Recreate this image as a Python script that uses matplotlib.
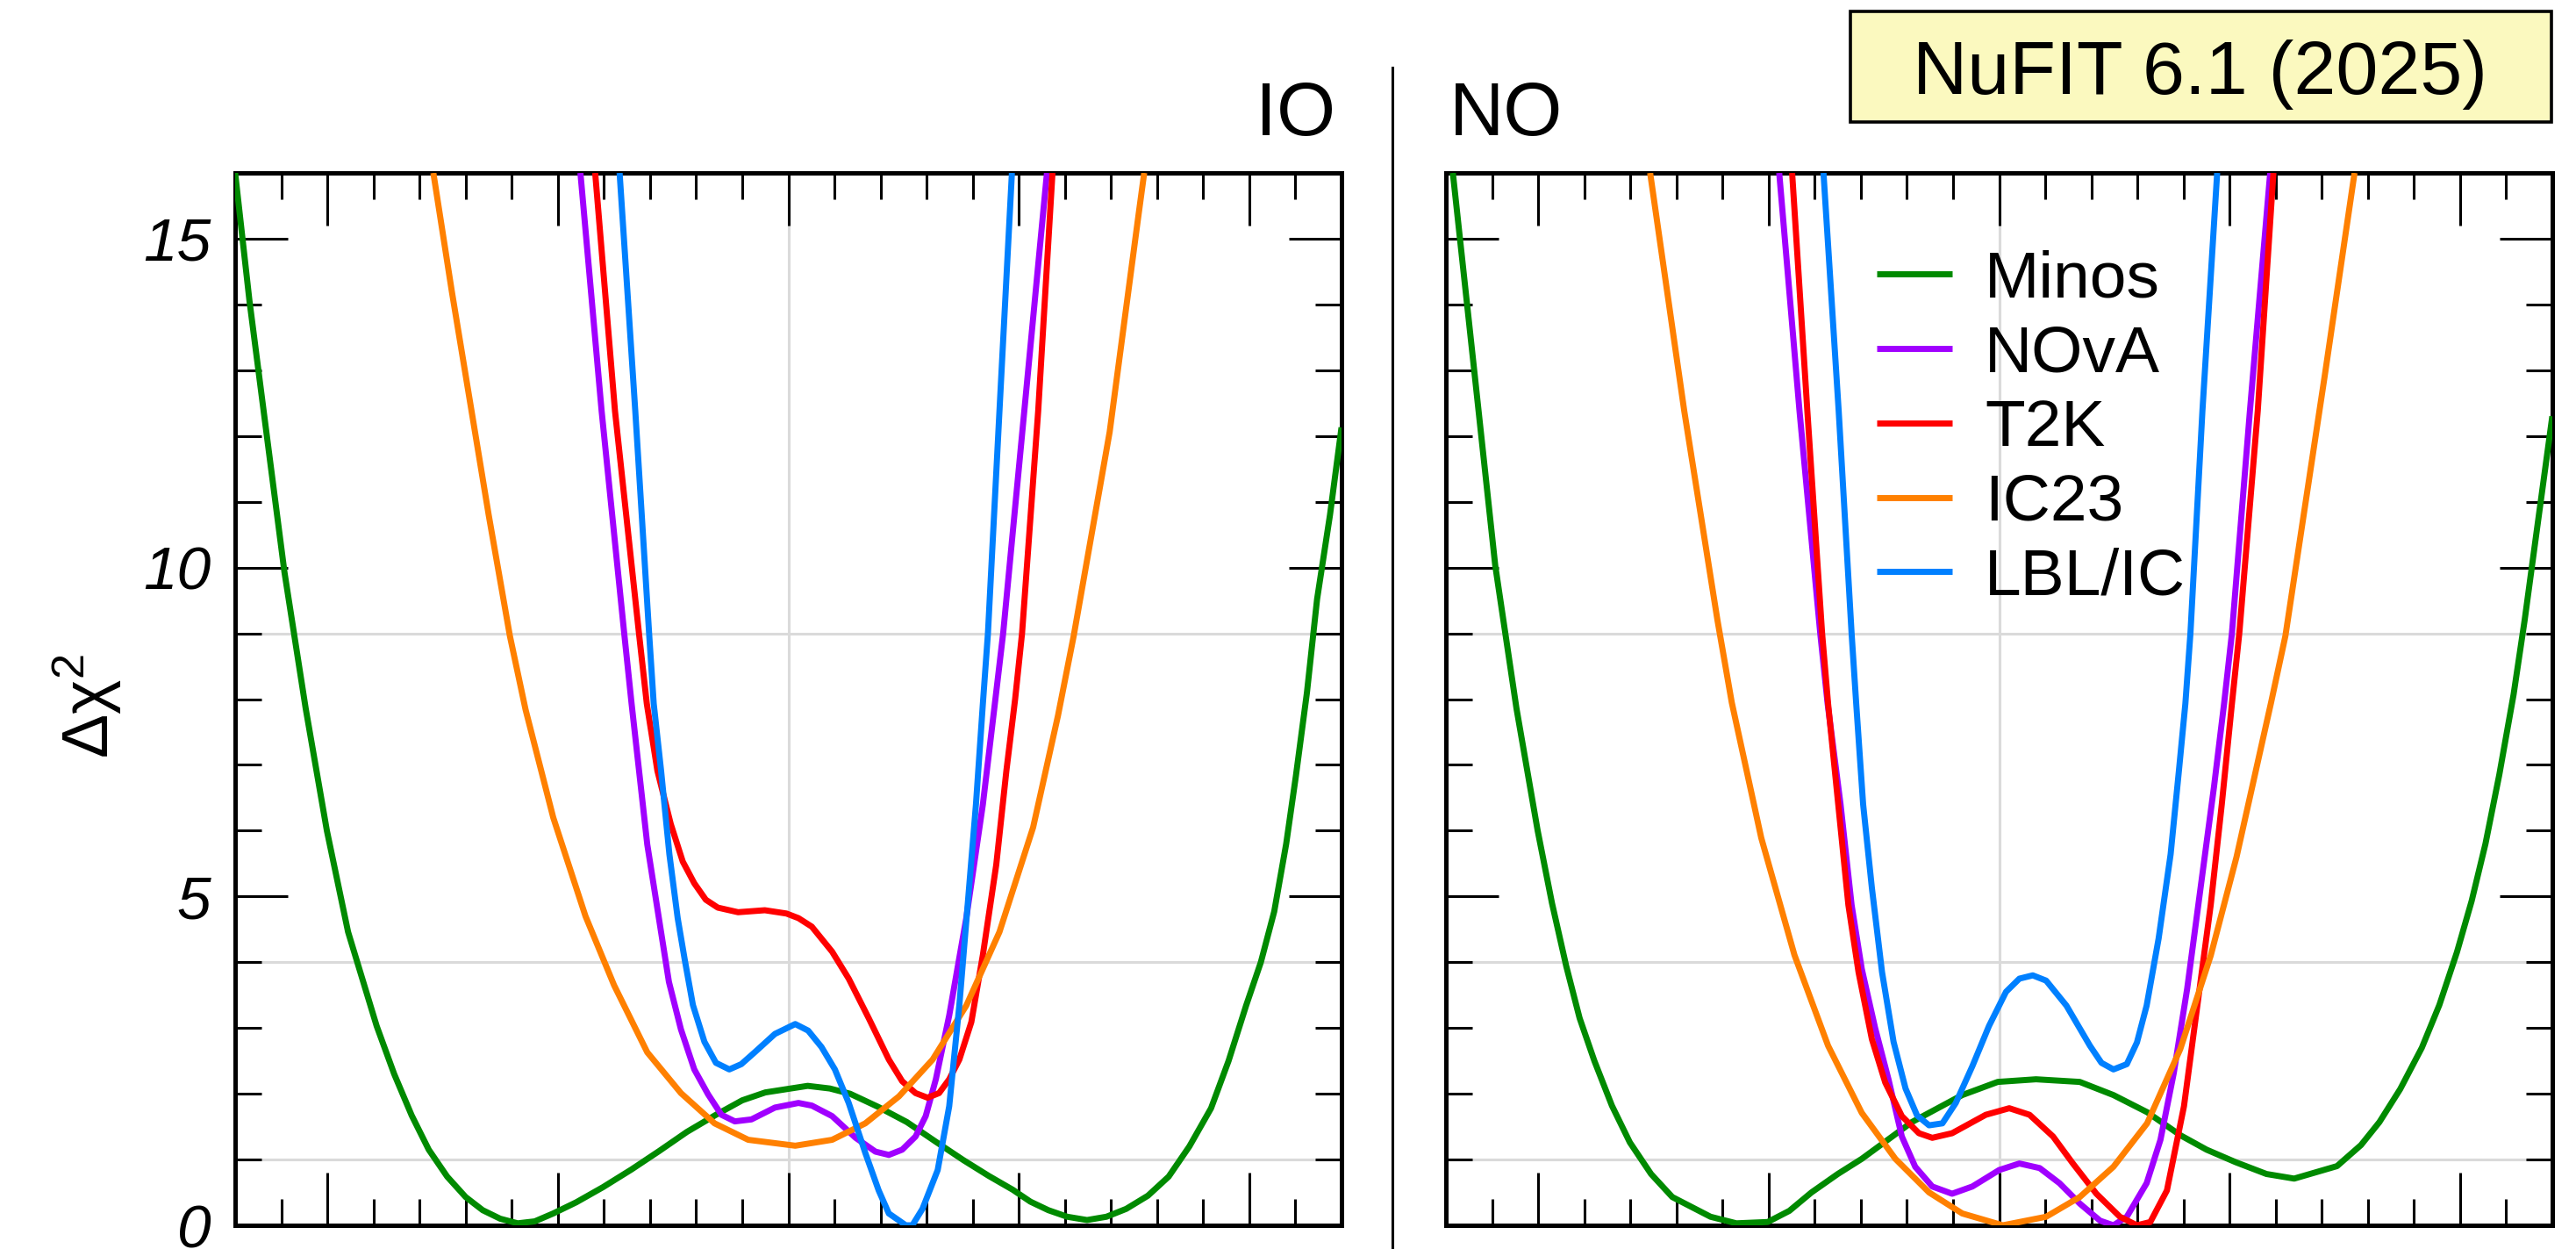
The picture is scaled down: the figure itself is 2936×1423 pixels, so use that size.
import matplotlib
matplotlib.use("Agg")
import matplotlib.pyplot as plt
from matplotlib.patches import Rectangle
from matplotlib.lines import Line2D
from matplotlib.ticker import MultipleLocator

plt.rcParams['font.family'] = ['Liberation Sans', 'DejaVu Sans']
plt.rcParams['mathtext.fontset'] = 'custom'
plt.rcParams['mathtext.rm'] = 'Liberation Sans'
plt.rcParams['mathtext.it'] = 'Liberation Sans:italic'

# ---------------- data (theta_23 in degrees, delta chi^2) ----------------
series_names = ["Minos", "NOvA", "T2K", "IC23", "LBL/IC"]
series_colors = ["#008a00", "#a000ff", "#ff0000", "#ff8000", "#0080ff"]
ytick_vals = [0, 5, 10, 15]
ytick_labels = ["0", "5", "10", "15"]
panel_labels = ["IO", "NO"]
title_text = "NuFIT 6.1 (2025)"

# ---- IO panel ----
minos_io_x = [33.0, 33.31, 33.69, 34.07, 34.53, 34.99, 35.45, 36.07, 36.45, 36.83, 37.2, 37.60,
              38.0, 38.37, 38.75, 39.13, 39.5, 39.90, 40.4, 40.98, 41.6, 42.20, 42.8, 43.43,
              44.0, 44.50, 45.42, 45.9, 46.34, 46.95, 47.57, 48.2, 48.80, 49.35, 49.87, 50.25,
              50.64, 51.05, 51.48, 51.9, 52.33, 52.8, 53.25, 53.7, 54.17, 54.55, 54.93, 55.25,
              55.54, 55.8, 56.01, 56.25, 56.47, 56.75, 57.0]
minos_io_y = [16.0, 14.06, 11.99, 9.93, 7.86, 6.00, 4.46, 3.03, 2.3, 1.67, 1.15, 0.74,
              0.43, 0.23, 0.1, 0.03, 0.06, 0.18, 0.35, 0.58, 0.85, 1.13, 1.42, 1.68,
              1.9, 2.02, 2.12, 2.08, 2.00, 1.80, 1.57, 1.27, 0.99, 0.75, 0.54, 0.36,
              0.23, 0.13, 0.08, 0.13, 0.25, 0.45, 0.74, 1.2, 1.78, 2.5, 3.34, 4.0,
              4.77, 5.8, 6.83, 8.1, 9.52, 10.8, 12.13]

nova_io_x = [40.49, 40.95, 41.44, 41.6, 41.94, 42.41, 42.67, 42.96, 43.26, 43.55, 43.84, 44.2,
             44.71, 45.22, 45.51, 45.95, 46.46, 46.89, 47.18, 47.47, 47.76, 47.98, 48.2, 48.49,
             48.86, 49.22, 49.48, 49.66, 50.61]
nova_io_y = [16.0, 12.38, 9.0, 7.93, 5.79, 3.70, 2.98, 2.37, 1.99, 1.68, 1.58, 1.61,
             1.79, 1.86, 1.82, 1.66, 1.33, 1.12, 1.07, 1.15, 1.35, 1.66, 2.22, 3.19,
             4.67, 6.40, 7.93, 9.0, 16.0]

t2k_io_x = [40.81, 41.24, 41.76, 41.93, 42.16, 42.45, 42.71, 42.96, 43.21, 43.47, 43.91, 44.49,
            44.96, 45.22, 45.51, 45.95, 46.31, 46.75, 47.18, 47.47, 47.76, 48.02, 48.27, 48.49,
            48.71, 48.97, 49.22, 49.51, 49.73, 49.92, 50.07, 50.42, 50.73]
t2k_io_y = [16.0, 12.38, 9.0, 7.93, 6.91, 6.10, 5.53, 5.20, 4.95, 4.83, 4.76, 4.79,
            4.74, 4.67, 4.54, 4.16, 3.75, 3.14, 2.52, 2.19, 2.01, 1.94, 2.01, 2.22,
            2.52, 3.09, 4.11, 5.48, 6.91, 8.0, 9.0, 12.38, 16.0]

ic23_io_x = [37.3, 37.7, 38.1, 38.5, 38.96, 39.30, 39.9, 40.6, 41.22, 41.94, 42.67, 43.4,
             44.13, 45.15, 45.95, 46.67, 47.4, 48.13, 48.86, 49.58, 50.31, 50.85, 51.19, 51.97,
             52.6, 52.72]
ic23_io_y = [16.0, 14.2, 12.5, 10.8, 8.96, 7.84, 6.2, 4.7, 3.65, 2.63, 2.01, 1.55,
             1.30, 1.21, 1.30, 1.55, 1.96, 2.52, 3.34, 4.46, 6.05, 7.75, 8.96, 12.06,
             15.38, 16.0]

lblic_io_x = [41.34, 41.68, 41.98, 42.08, 42.24, 42.42, 42.6, 42.75, 42.93, 43.18, 43.43, 43.72,
              43.98, 44.27, 44.71, 45.15, 45.43, 45.72, 46.01, 46.31, 46.67, 46.96, 47.18, 47.55,
              47.69, 47.91, 48.24, 48.49, 48.71, 48.89, 49.07, 49.22, 49.33, 49.58, 49.85]
lblic_io_y = [16.0, 12.38, 9.0, 7.93, 6.91, 5.64, 4.67, 4.05, 3.35, 2.79, 2.47, 2.37,
              2.45, 2.63, 2.91, 3.06, 2.96, 2.71, 2.37, 1.86, 1.10, 0.53, 0.18, 0.0,
              0.0, 0.25, 0.84, 1.81, 3.35, 4.87, 6.40, 7.93, 9.0, 12.38, 16.0]

# ---- NO panel ----
minos_no_x = [33.15, 33.61, 34.07, 34.53, 34.99, 35.3, 35.61, 35.9, 36.22, 36.6, 36.99, 37.45,
              37.91, 38.74, 39.3, 39.98, 40.45, 40.93, 41.5, 42.02, 43.11, 44.20, 44.97, 45.80,
              46.75, 47.48, 48.21, 48.93, 49.5, 50.13, 50.8, 51.40, 52.33, 52.85, 53.25, 53.7,
              54.17, 54.55, 54.93, 55.25, 55.55, 55.85, 56.16, 56.4, 56.62, 57.0]
minos_no_y = [16.0, 13.02, 10.03, 7.86, 6.0, 4.9, 3.94, 3.15, 2.50, 1.82, 1.26, 0.78,
              0.43, 0.13, 0.03, 0.05, 0.22, 0.50, 0.78, 1.01, 1.57, 1.98, 2.18, 2.22,
              2.18, 1.98, 1.72, 1.37, 1.15, 0.96, 0.78, 0.71, 0.90, 1.22, 1.57, 2.07,
              2.70, 3.35, 4.15, 4.93, 5.80, 6.85, 8.07, 9.2, 10.34, 12.3]

nova_no_x = [40.23, 40.67, 41.12, 41.28, 41.56, 41.80, 42.02, 42.31, 42.60, 42.89, 43.18, 43.55,
             43.98, 44.42, 45.0, 45.44, 45.88, 46.31, 46.75, 47.19, 47.48, 47.77, 48.2, 48.5,
             48.79, 49.08, 49.37, 49.66, 49.88, 50.05, 50.44, 50.88]
nova_no_y = [16.0, 12.38, 9.0, 7.93, 6.4, 4.87, 3.9, 3.0, 2.22, 1.35, 0.89, 0.59,
             0.48, 0.59, 0.84, 0.94, 0.87, 0.64, 0.33, 0.07, 0.0, 0.13, 0.64, 1.30,
             2.32, 3.60, 5.13, 6.66, 7.93, 9.0, 12.38, 16.0]

t2k_no_x = [40.51, 40.84, 41.16, 41.29, 41.51, 41.73, 41.95, 42.24, 42.53, 42.89, 43.26, 43.55,
            43.98, 44.71, 45.22, 45.66, 46.17, 46.6, 47.11, 47.62, 47.99, 48.28, 48.64, 49.01,
            49.30, 49.59, 49.83, 50.05, 50.21, 50.61, 50.95]
t2k_no_y = [16.0, 12.38, 9.0, 7.93, 6.40, 4.87, 3.85, 2.83, 2.17, 1.66, 1.40, 1.33,
            1.40, 1.68, 1.78, 1.68, 1.35, 0.94, 0.48, 0.13, 0.0, 0.05, 0.53, 1.81,
            3.34, 4.87, 6.40, 7.93, 9.0, 12.38, 16.0]

ic23_no_x = [37.43, 38.17, 38.89, 39.2, 39.84, 40.56, 41.29, 42.02, 42.75, 43.48, 44.20, 45.08,
             46.02, 46.75, 47.48, 48.21, 48.93, 49.59, 50.15, 50.9, 51.21, 52.06, 52.71]
ic23_no_y = [16.0, 12.38, 9.2, 7.95, 5.89, 4.11, 2.73, 1.71, 1.01, 0.50, 0.18, 0.0,
             0.13, 0.43, 0.89, 1.55, 2.68, 4.1, 5.6, 7.95, 8.96, 12.9, 16.0]

lblic_no_x = [41.19, 41.52, 41.8, 41.9, 42.05, 42.24, 42.46, 42.71, 42.97, 43.22, 43.48, 43.77,
              44.06, 44.42, 44.78, 45.15, 45.44, 45.73, 46.02, 46.46, 46.97, 47.22, 47.48, 47.77,
              47.99, 48.2, 48.46, 48.72, 48.9, 49.04, 49.15, 49.41, 49.73]
lblic_no_y = [16.0, 12.38, 9.0, 7.93, 6.40, 5.13, 3.85, 2.79, 2.08, 1.67, 1.52, 1.55,
              1.86, 2.42, 3.03, 3.55, 3.75, 3.80, 3.72, 3.34, 2.73, 2.47, 2.37, 2.45,
              2.78, 3.34, 4.36, 5.64, 6.91, 7.93, 9.0, 12.38, 16.0]

io_series = [(minos_io_x, minos_io_y), (nova_io_x, nova_io_y), (t2k_io_x, t2k_io_y),
             (ic23_io_x, ic23_io_y), (lblic_io_x, lblic_io_y)]
no_series = [(minos_no_x, minos_no_y), (nova_no_x, nova_no_y), (t2k_no_x, t2k_no_y),
             (ic23_no_x, ic23_no_y), (lblic_no_x, lblic_no_y)]

grid_y = [1, 4, 9]
grid_x = [45]
xlim = (33, 57)
ylim = (0, 16)

# ---------------- figure ----------------
W, H, DPI = 2936, 1423, 200
fig = plt.figure(figsize=(W / DPI, H / DPI), dpi=DPI)


def px_rect(x0, y0, x1, y1):
    return [x0 / W, 1 - y1 / H, (x1 - x0) / W, (y1 - y0) / H]


axL = fig.add_axes(px_rect(268, 197, 1529, 1396))
axR = fig.add_axes(px_rect(1648, 197, 2909, 1396))

for ax, data in ((axL, io_series), (axR, no_series)):
    for gy in grid_y:
        ax.axhline(gy, color="#dadada", lw=1.1, zorder=0.5)
    for gx in grid_x:
        ax.axvline(gx, color="#dadada", lw=1.1, zorder=0.5)
    for (xs, ys), name, col in zip(data, series_names, series_colors):
        ax.plot(xs, ys, color=col, lw=2.5, label=name, zorder=3,
                solid_joinstyle="round", solid_capstyle="butt")
    ax.set_xlim(*xlim)
    ax.set_ylim(*ylim)
    ax.xaxis.set_major_locator(MultipleLocator(5))
    ax.xaxis.set_minor_locator(MultipleLocator(1))
    ax.set_yticks(ytick_vals)
    ax.yaxis.set_minor_locator(MultipleLocator(1))
    ax.tick_params(which="both", direction="in", top=True, right=True, width=1.1,
                   color="black", labelbottom=False)
    ax.tick_params(which="major", length=21.5)
    ax.tick_params(which="minor", length=10.8)
    for sp in ax.spines.values():
        sp.set_linewidth(1.8)

axL.set_yticklabels(ytick_labels, fontstyle="italic", fontsize=25)
axL.tick_params(axis="y", pad=10)
axR.tick_params(labelleft=False)

leg = axR.legend(loc="upper left", bbox_to_anchor=(0.389, 0.927), frameon=False,
                 fontsize=27, handlelength=1.15, handletextpad=0.5, labelspacing=0.21,
                 borderpad=0, borderaxespad=0)

# y label
fig.text(100 / W, 1 - 805 / H, r"$\Delta\mathrm{\chi}^2$", rotation=90, ha="center",
         va="center", fontsize=27)

# panel labels
fig.text(1522 / W, 1 - 154 / H, panel_labels[0], ha="right", va="baseline", fontsize=31)
fig.text(1652 / W, 1 - 154 / H, panel_labels[1], ha="left", va="baseline", fontsize=31)

# divider
fig.add_artist(Line2D([1587 / W, 1587 / W], [1 - 77 / H, 0], transform=fig.transFigure,
                      color="black", lw=1.1))

# title box
fig.add_artist(Rectangle((2109 / W, 1 - 139 / H), (2908 - 2109) / W, (139 - 13) / H,
                         transform=fig.transFigure, facecolor="#fbf9bf", edgecolor="black",
                         lw=1.3))
fig.text(2507 / W, 1 - 107 / H, title_text, ha="center", va="baseline", fontsize=31)

fig.savefig("out.png", dpi=DPI)
